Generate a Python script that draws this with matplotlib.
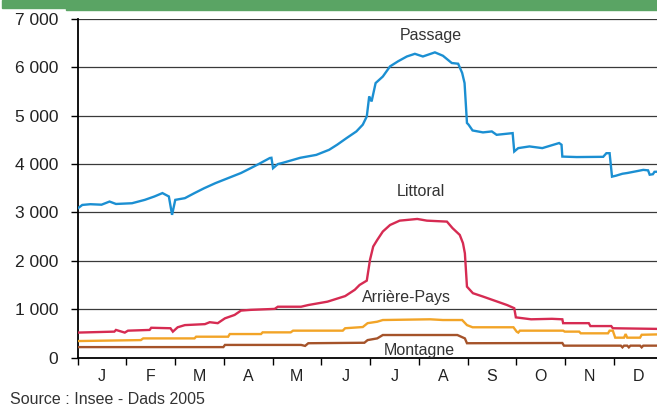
import matplotlib
matplotlib.use("Agg")
import matplotlib.pyplot as plt
from matplotlib.patches import Rectangle

plt.rcParams['font.family'] = ['Liberation Sans', 'DejaVu Sans']

months = ['J', 'F', 'M', 'A', 'M', 'J', 'J', 'A', 'S', 'O', 'N', 'D']
yticks = [0, 1000, 2000, 3000, 4000, 5000, 6000, 7000]
ylabels = ['0', '1 000', '2 000', '3 000', '4 000', '5 000', '6 000', '7 000']

passage_days = [0, 3, 8, 15, 20, 24, 34, 42, 48, 53, 57, 59, 61, 67, 73, 79, 86, 94, 102, 108,
                113, 120, 121, 122, 125, 128, 139, 149, 157, 162, 168, 174, 178, 180.5, 182,
                183.5, 186, 190.5, 195, 200, 205.5, 210.5, 215.5, 223, 228, 233.5, 237.5, 240,
                241.5, 243, 244, 246.5, 253, 258.5, 261.5, 271.5, 272.5, 275, 282, 290, 295,
                300.5, 302, 302.5, 311.5, 328, 330, 332, 333.5, 336, 340, 343, 350, 353, 356,
                357, 359, 360, 365]
passage_vals = [3080, 3155, 3170, 3160, 3225, 3175, 3190, 3260, 3330, 3400, 3330, 2950, 3260,
                3295, 3400, 3500, 3605, 3710, 3815, 3915, 4000, 4125, 4130, 3915, 4000, 4025,
                4130, 4190, 4295, 4400, 4540, 4675, 4815, 4985, 5400, 5295, 5675, 5810, 6020,
                6125, 6225, 6280, 6225, 6310, 6240, 6090, 6075, 5885, 5675, 4850, 4815, 4695,
                4655, 4675, 4605, 4640, 4260, 4330, 4365, 4330, 4380, 4435, 4400, 4155, 4145,
                4150, 4225, 4225, 3740, 3760, 3800, 3815, 3860, 3880, 3870, 3780, 3790, 3840,
                3845]

littoral_days = [0, 23, 24, 29.5, 31.5, 45, 46, 58, 59.5, 62.5, 67, 79.5, 82.5, 87.5, 92, 98,
                 102, 108, 123, 125, 139.5, 144, 156, 167, 173, 176, 180.5, 182.5, 184.5, 187,
                 190.5, 195, 201, 212, 218, 230.5, 234, 238.5, 240.5, 241.7, 243, 246.7, 253,
                 259, 268, 272.5, 273.5, 283, 296, 302.5, 303, 319, 320, 333, 334, 365]
littoral_vals = [515, 535, 570, 515, 555, 570, 615, 605, 535, 625, 670, 690, 730, 710, 810, 880,
                 970, 985, 1005, 1050, 1050, 1085, 1155, 1270, 1400, 1500, 1590, 2020, 2295, 2430,
                 2605, 2740, 2830, 2865, 2830, 2810, 2675, 2535, 2365, 2155, 1465, 1330, 1260,
                 1190, 1085, 1020, 830, 790, 800, 790, 710, 710, 650, 650, 605, 590]

arriere_days = [0, 39.5, 41, 73, 74, 94, 95, 114.5, 115.5, 133, 134.5, 165.5, 167, 178, 181,
                187, 190.5, 220, 228, 240, 243, 246.5, 272, 274, 275, 276, 303, 304, 313, 314,
                331, 332, 334, 335.5, 341, 342, 343, 351, 352, 365]
arriere_vals = [340, 360, 395, 395, 430, 430, 485, 485, 520, 520, 555, 555, 605, 630, 710,
                740, 775, 790, 775, 775, 670, 625, 625, 535, 515, 555, 555, 535, 535, 500,
                500, 555, 555, 410, 410, 485, 410, 410, 470, 480]

montagne_days = [0, 91, 92, 139.5, 142, 144, 179, 181, 187, 190.5, 237, 241.7, 243, 302.5,
                 303.5, 339, 340, 341, 343, 344, 345, 351, 352, 353, 365]
montagne_vals = [215, 215, 260, 260, 240, 295, 305, 360, 395, 465, 465, 395, 295, 300,
                 245, 245, 210, 245, 245, 210, 245, 245, 210, 245, 245]

series = [
    ('Passage', passage_days, passage_vals, '#1b8fd2', 220.5, 6655),
    ('Littoral', littoral_days, littoral_vals, '#d62b52', 214, 3425),
    ('Arrière-Pays', arriere_days, arriere_vals, '#f2a427', 205, 1250),
    ('Montagne', montagne_days, montagne_vals, '#a5532a', 213.5, 155),
]

fig = plt.figure(figsize=(6.57, 4.07), dpi=100)
fig.patches.append(Rectangle((2 / 657, 1 - 8 / 407), 64 / 657, 8 / 407,
                             transform=fig.transFigure, color='#5aa464', zorder=0))
fig.patches.append(Rectangle((66 / 657, 1 - 10 / 407), 1, 10 / 407,
                             transform=fig.transFigure, color='#5aa464', zorder=0))

ax = fig.add_axes([77.5 / 657, 49.5 / 407, 585 / 657, 338.5 / 407])
ax.set_xlim(0, 365)
ax.set_ylim(0, 7000)

for y in yticks[1:]:
    ax.axhline(y, color='#3a3a3a', lw=0.9, zorder=1)

for name, d, v, c, tx, ty in series:
    ax.plot(d, v, color=c, lw=1.7, zorder=3, solid_joinstyle='miter')
    ax.text(tx, ty, name, ha='center', va='center', fontsize=11.5, color='#333333', zorder=4)

step = 365 / 12
ax.set_xticks([i * step for i in range(13)])
ax.set_xticklabels([])
ax.set_xticks([(i + 0.5) * step for i in range(12)], minor=True)
ax.set_xticklabels(months, minor=True, fontsize=11.5, color='#222222')
ax.tick_params(axis='x', which='major', length=5, width=1, color='black', direction='out')
ax.tick_params(axis='x', which='minor', length=0, pad=8)

ax.set_yticks(yticks)
ax.set_yticklabels(ylabels, fontsize=12.5, color='#222222')
ax.tick_params(axis='y', length=5, width=1, color='black', direction='out', pad=9)

for s in ['top', 'right']:
    ax.spines[s].set_visible(False)
ax.spines['left'].set_linewidth(1.3)
ax.spines['bottom'].set_linewidth(1.3)

fig.text(10 / 657, 1 - 399 / 407, 'Source : Insee - Dads 2005', fontsize=11.5,
         color='#333333', ha='left', va='center')

fig.savefig('out.png', dpi=100)
